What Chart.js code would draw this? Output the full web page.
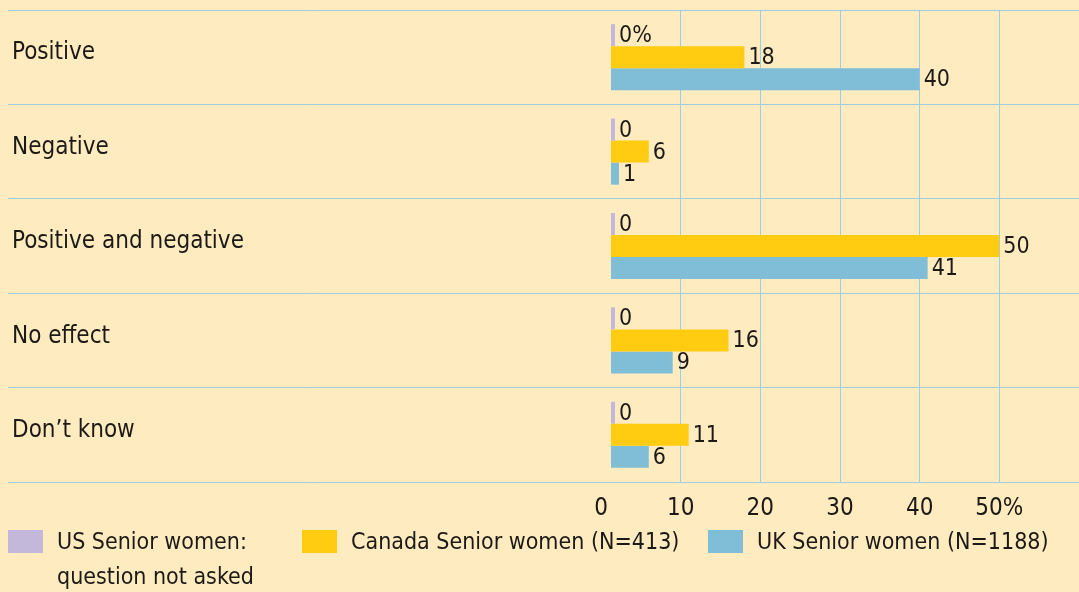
<!DOCTYPE html>
<html>
<head>
<meta charset="utf-8">
<script src="https://cdn.jsdelivr.net/npm/chart.js@4.4.1/dist/chart.umd.min.js"></script>
<style>
  html, body { margin: 0; padding: 0; background: #feebc0; }
  #wrap { position: relative; width: 1079px; height: 592px; overflow: hidden; }
</style>
</head>
<body>
<div id="wrap"><canvas id="myChart" width="1079" height="592"></canvas></div>
<script>
const categories = ['Positive', 'Negative', 'Positive and negative', 'No effect', 'Don\u2019t know'];
const usValues = [0, 0, 0, 0, 0];
const canadaValues = [18, 6, 50, 16, 11];
const ukValues = [40, 1, 41, 9, 6];
const seriesLabels = [
  ['US Senior women:', 'question not asked'],
  ['Canada Senior women (N=413)'],
  ['UK Senior women (N=1188)'],
];
const tickLabels = ['0', '10', '20', '30', '40', '50%'];

const FONT = "'Liberation Sans Narrow', 'DejaVu Sans Condensed', 'Roboto Condensed', sans-serif";
const INK = '#1c1a16';
const GRID = '#9dcde0';

// bars begin a little right of the zero line, so clip the dataset layer there
const barStart = {
  id: 'barStart',
  beforeDatasetsDraw(chart, args, opts) {
    const { ctx, chartArea } = chart;
    ctx.save();
    ctx.beginPath();
    ctx.rect(chartArea.left + opts.inset, 0, chart.width, chart.height);
    ctx.clip();
  },
  afterDatasetsDraw(chart) {
    chart.ctx.restore();
  },
};

// numbers printed at the end of each bar
const valueLabels = {
  id: 'valueLabels',
  afterDatasetsDraw(chart) {
    const { ctx } = chart;
    ctx.save();
    ctx.font = `23px ${FONT}`;
    ctx.fillStyle = INK;
    ctx.textBaseline = 'middle';
    chart.data.datasets.forEach((ds, di) => {
      chart.getDatasetMeta(di).data.forEach((bar, i) => {
        let txt = String(ds.data[i]);
        if (di === 0 && i === 0) txt += '%';
        ctx.fillText(txt, bar.x + 4, bar.y + 1);
      });
    });
    ctx.restore();
  },
};

// legend row under the axis
const legendRow = {
  id: 'legendRow',
  afterDraw(chart, args, opts) {
    const { ctx } = chart;
    ctx.save();
    ctx.font = `23px ${FONT}`;
    ctx.textBaseline = 'middle';
    chart.data.datasets.forEach((ds, i) => {
      const x = opts.left[i];
      ctx.fillStyle = ds.backgroundColor;
      ctx.fillRect(x, opts.top, 35, 23);
      ctx.fillStyle = INK;
      seriesLabels[i].forEach((line, k) => {
        ctx.fillText(line, x + 49, opts.top + 13 + k * 35);
      });
    });
    ctx.restore();
  },
};

const config = {
  type: 'bar',
  data: {
    labels: categories,
    datasets: [
      { label: seriesLabels[0].join(' '), data: usValues, backgroundColor: '#c4b8da', minBarLength: 14 },
      { label: seriesLabels[1][0], data: canadaValues, backgroundColor: '#ffcc12', minBarLength: 18 },
      { label: seriesLabels[2][0], data: ukValues, backgroundColor: '#80bed8', minBarLength: 18 },
    ],
  },
  options: {
    indexAxis: 'y',
    responsive: false,
    animation: false,
    events: [],
    datasets: { bar: { categoryPercentage: 0.7, barPercentage: 1 } },
    layout: { padding: { left: 12, top: 10, right: 0, bottom: 66 } },
    plugins: {
      legend: { display: false },
      tooltip: { enabled: false },
      title: { display: false },
      barStart: { inset: 10 },
      legendRow: { left: [8, 302, 708], top: 530 },
    },
    scales: {
      x: {
        min: 0,
        max: 60,
        border: { display: false },
        grid: {
          drawTicks: false,
          color: (c) => (c.tick && (c.tick.value === 0 || c.tick.value === 60) ? 'rgba(0,0,0,0)' : GRID),
        },
        ticks: {
          stepSize: 10,
          padding: 12,
          maxRotation: 0,
          color: INK,
          font: { family: FONT, size: 24 },
          callback: (value, index) => tickLabels[index] ?? '',
        },
        afterFit: (scale) => {
          scale.height = 44;
          scale.paddingLeft = 0;
          scale.paddingRight = 0;
        },
      },
      y: {
        border: { display: false },
        grid: { color: GRID, tickLength: 593 },
        ticks: {
          crossAlign: 'far',
          labelOffset: -4,
          color: INK,
          font: { family: FONT, size: 24 },
        },
        afterFit: (scale) => {
          scale.width = 589;
          scale.paddingTop = 0;
          scale.paddingBottom = 0;
        },
      },
    },
  },
  plugins: [barStart, valueLabels, legendRow],
};

const chart = new Chart(document.getElementById('myChart'), config);
</script>
</body>
</html>
